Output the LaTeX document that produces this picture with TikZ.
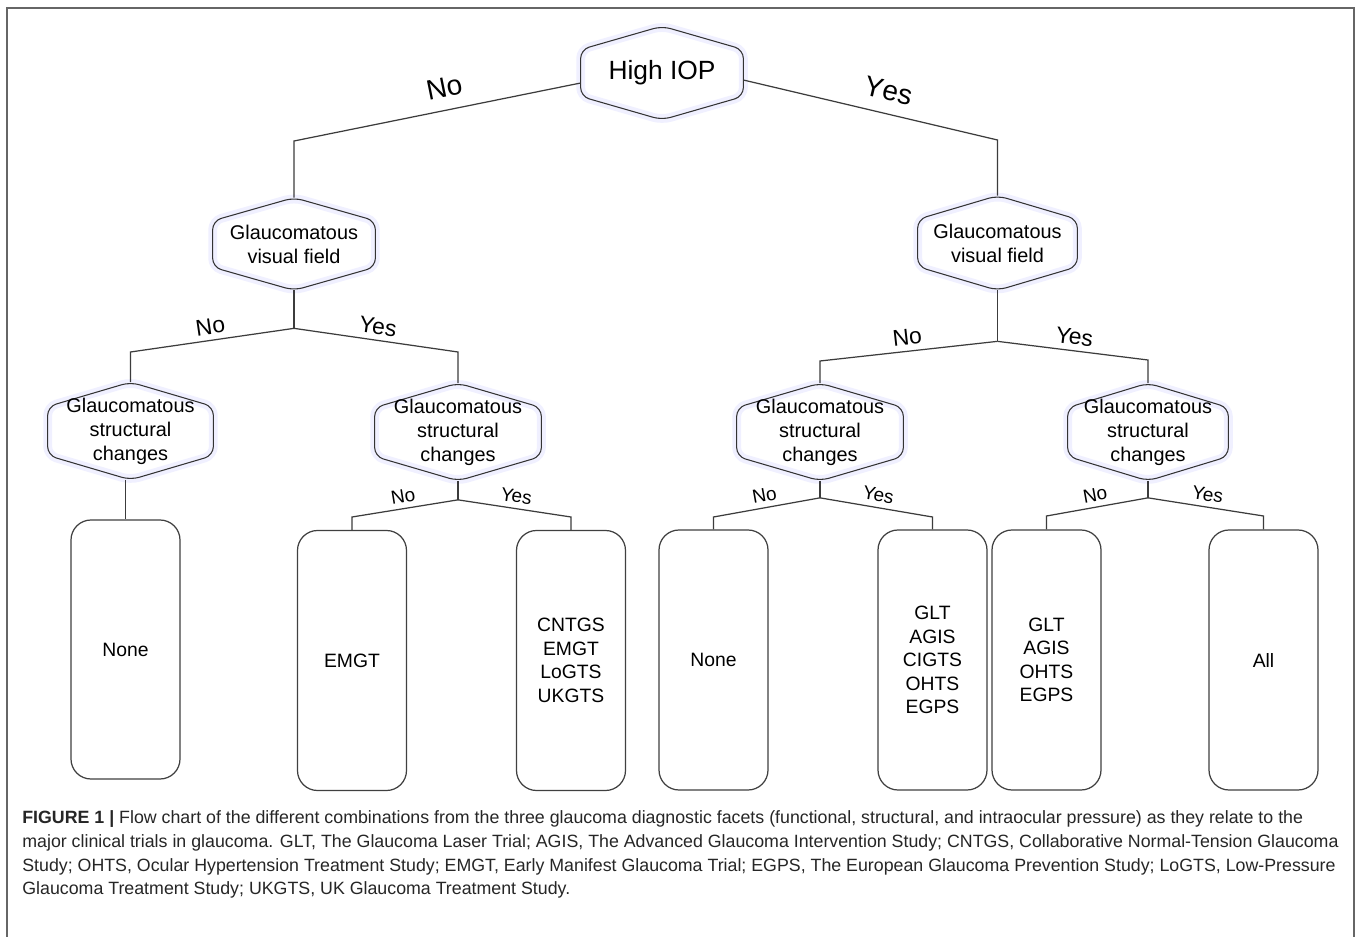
\documentclass[tikz,border=0pt]{standalone}
\usepackage{fontspec}
\setmainfont{Liberation Sans}
\newfontfamily\capfont{Liberation Sans}
\usepackage{xcolor}
\usepackage{tikz}
\usetikzlibrary{calc, backgrounds}
\definecolor{garisabu}{RGB}{60, 60, 60}

% outline of a decision hexagon, drawn round a named node
\newcommand{\segienam}[1]{%
  \draw[tepi] (#1.north) -- ($(#1.north east)!0.25!(#1.south east)$)
    -- ($(#1.north east)!0.75!(#1.south east)$) -- (#1.south)
    -- ($(#1.north west)!0.75!(#1.south west)$)
    -- ($(#1.north west)!0.25!(#1.south west)$) -- cycle;}

\begin{document}
\begin{tikzpicture}[
    font=\fontsize{11pt}{13.4pt}\selectfont,
    keputusan/.style={inner sep=0pt, align=center, minimum width=3.3cm,
                      minimum height=1.94cm,
                      font=\fontsize{11.3pt}{13.6pt}\selectfont},
    tepi/.style={draw=black!80, line width=0.6pt, rounded corners=5pt,
                 preaction={draw=blue!6, line width=5pt}},
    kotak/.style={draw=black!75, line width=0.7pt, rounded corners=0.4cm,
                  minimum width=2.18cm, minimum height=5.2cm, align=center,
                  inner sep=2pt},
    garis/.style={draw=garisabu, line width=0.7pt},
    ketA/.style={above=4pt, sloped, inner sep=3pt,
                 font=\fontsize{16pt}{18pt}\selectfont\addfontfeatures{Kerning=Off}},
    ketB/.style={above, sloped, inner sep=3pt,
                 font=\fontsize{13pt}{15pt}\selectfont},
    ketC/.style={above, sloped, inner sep=3pt,
                 font=\fontsize{10.8pt}{13pt}\selectfont},
    bingkai/.style={draw=black!60, line width=1.1pt}
  ]
    \useasboundingbox (0,0) rectangle (27.16,-18.74);

    % hexagons
    \node[keputusan, minimum width=3.24cm, minimum height=1.86cm,
          font=\fontsize{15pt}{18pt}\selectfont] (iop) at (13.24,-1.46) {High IOP};
    \node[keputusan, minimum width=3.24cm, minimum height=1.84cm] (vfL) at (5.88,-4.88)
      {Glaucomatous\\visual field};
    \node[keputusan, minimum width=3.18cm, minimum height=1.88cm] (vfR) at (19.95,-4.86)
      {Glaucomatous\\visual field};
    \node[keputusan] (scA) at (2.61,-8.62) {Glaucomatous\\structural\\changes};
    \node[keputusan, minimum width=3.32cm] (scB) at (9.16,-8.64)
      {Glaucomatous\\structural\\changes};
    \node[keputusan, minimum width=3.32cm] (scC) at (16.4,-8.64)
      {Glaucomatous\\structural\\changes};
    \node[keputusan, minimum width=3.2cm] (scD) at (22.96,-8.64)
      {Glaucomatous\\structural\\changes};
    \begin{pgfonlayer}{background}
      \fill[white] (0,0) rectangle (27.16,-18.74);
      \segienam{iop}
      \segienam{vfL}
      \segienam{vfR}
      \segienam{scA}
      \segienam{scB}
      \segienam{scC}
      \segienam{scD}
    \end{pgfonlayer}
    \draw[bingkai] (0.14,-18.74) -- (0.14,-0.16) -- (27.08,-0.16) -- (27.08,-18.74);

    % trial boxes
    \node[kotak, minimum height=5.18cm] (n1) at (2.51,-12.99) {None};
    \node[kotak] (b2) at (7.04,-13.21) {EMGT};
    \node[kotak] (b3) at (11.42,-13.21) {CNTGS\\EMGT\\LoGTS\\UKGTS};
    \node[kotak] (b4) at (14.27,-13.2) {None};
    \node[kotak] (b5) at (18.65,-13.2) {GLT\\AGIS\\CIGTS\\OHTS\\EGPS};
    \node[kotak] (b6) at (20.93,-13.2) {GLT\\AGIS\\OHTS\\EGPS};
    \node[kotak] (b7) at (25.27,-13.2) {All};

    % high IOP
    \draw[garis] ([yshift=-0.2cm]iop.west) -- node[ketA, pos=0.46]{No}
      (vfL.north |- 0,-2.82) -- (vfL.north);
    \draw[garis] ([yshift=-0.14cm]iop.east) -- node[ketA, pos=0.55]{Yes}
      (vfR.north |- 0,-2.8) -- (vfR.north);

    % visual field
    \coordinate (jA) at ($(vfL.south)+(0,-0.76)$);
    \coordinate (jB) at ($(vfR.south)+(0,-1.02)$);
    \draw[garis] (vfL.south) -- (jA);
    \draw[garis] (jA) -- node[ketB]{No} (scA.north |- 0,-7.04) -- (scA.north);
    \draw[garis] (jA) -- node[ketB]{Yes} (scB.north |- 0,-7.04) -- (scB.north);
    \draw[garis] (vfR.south) -- (jB);
    \draw[garis] (jB) -- node[ketB]{No} (scC.north |- 0,-7.22) -- (scC.north);
    \draw[garis] (jB) -- node[ketB]{Yes} (scD.north |- 0,-7.2) -- (scD.north);

    % structural changes
    \draw[garis] (n1.north |- scA.south) -- (n1.north);
    \coordinate (jC) at ($(scB.south)+(0,-0.38)$);
    \coordinate (jD) at ($(scC.south)+(0,-0.34)$);
    \coordinate (jE) at ($(scD.south)+(0,-0.34)$);
    \draw[garis] (scB.south) -- (jC);
    \draw[garis] (jC) -- node[ketC]{No} (b2.north |- 0,-10.34) -- (b2.north);
    \draw[garis] (jC) -- node[ketC]{Yes} (b3.north |- 0,-10.34) -- (b3.north);
    \draw[garis] (scC.south) -- (jD);
    \draw[garis] (jD) -- node[ketC]{No} (b4.north |- 0,-10.34) -- (b4.north);
    \draw[garis] (jD) -- node[ketC]{Yes} (b5.north |- 0,-10.34) -- (b5.north);
    \draw[garis] (scD.south) -- (jE);
    \draw[garis] (jE) -- node[ketC]{No} (b6.north |- 0,-10.32) -- (b6.north);
    \draw[garis] (jE) -- node[ketC]{Yes} (b7.north |- 0,-10.32) -- (b7.north);

    % caption
    \node[anchor=north west, align=left, inner sep=0pt, text=black!85,
          font=\capfont\fontsize{10.12pt}{13.6pt}\selectfont] (cap) at (0.44,-16.2)
      {\textbf{FIGURE 1 |} Flow chart of the different combinations from the three glaucoma diagnostic facets (functional, structural, and intraocular pressure) as they relate to the\\
       major clinical trials in glaucoma. GLT, The Glaucoma Laser Trial; AGIS, The Advanced Glaucoma Intervention Study; CNTGS, Collaborative Normal-Tension Glaucoma\\
       Study; OHTS, Ocular Hypertension Treatment Study; EMGT, Early Manifest Glaucoma Trial; EGPS, The European Glaucoma Prevention Study; LoGTS, Low-Pressure\\
       Glaucoma Treatment Study; UKGTS, UK Glaucoma Treatment Study.};
  \end{tikzpicture}
\end{document}
